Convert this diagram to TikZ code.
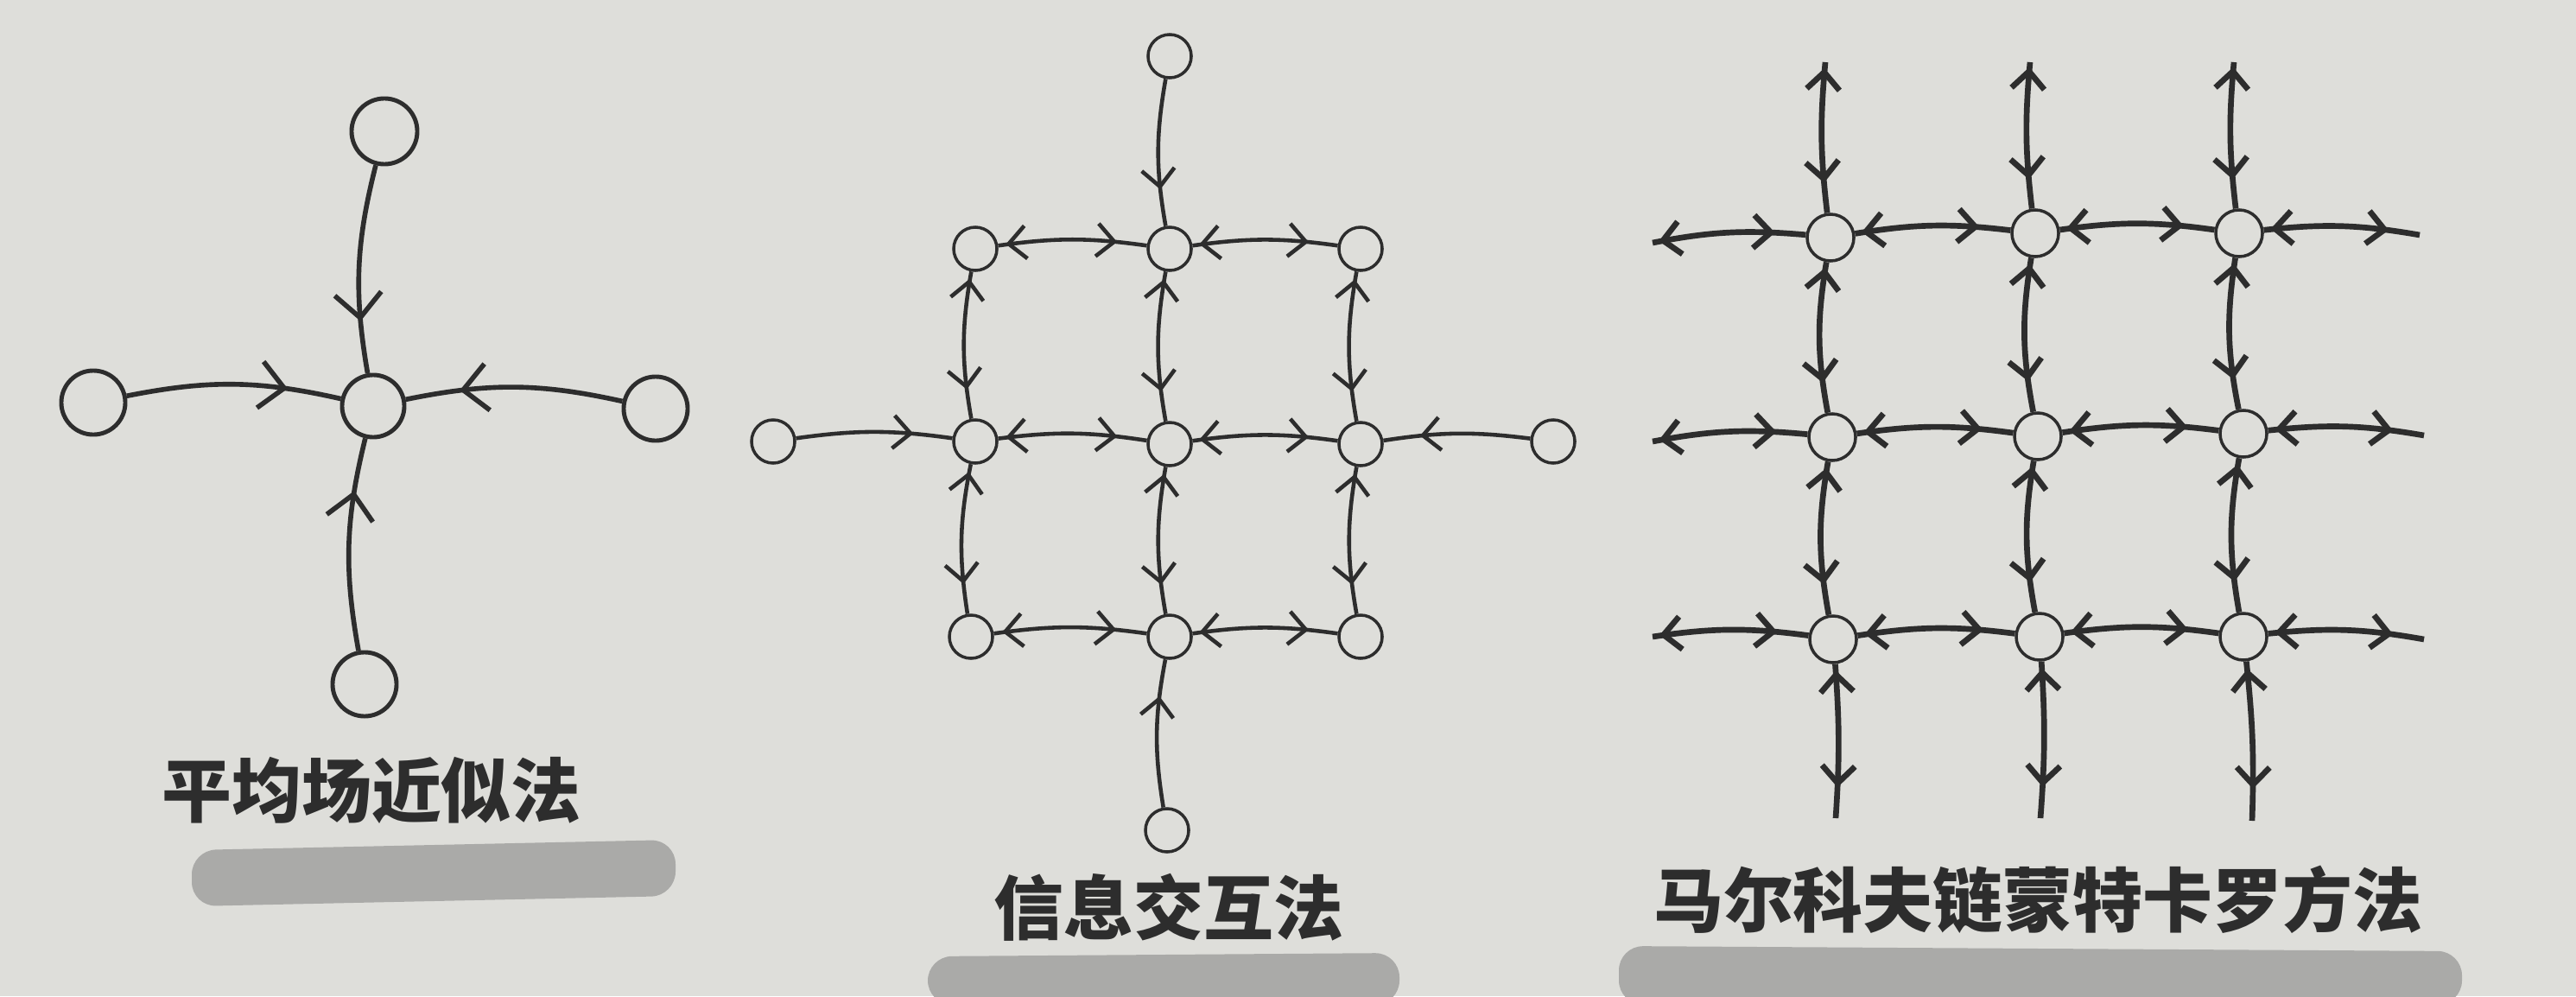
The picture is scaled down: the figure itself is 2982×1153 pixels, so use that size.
\documentclass[tikz,border=0pt]{standalone}
\usepackage{fontspec}
\newfontfamily\cjk{Noto Sans CJK SC Black}
\usetikzlibrary{arrows.meta,decorations.markings}
\definecolor{paper}{RGB}{222,222,218}
\definecolor{ink}{RGB}{45,45,45}
\definecolor{marker}{RGB}{170,170,168}

\begin{document}
\begin{tikzpicture}[x=0.01cm,y=0.01cm]
\tikzset{every node/.style={circle,draw=ink,fill=paper,inner sep=0pt},
both way/.style={postaction={decorate},decoration={markings,
mark=at position 0.2 with {\arrow{<}},mark=at position 0.8 with {\arrow{>}}}},
in way/.style={postaction={decorate},decoration={markings,
mark=at position 0.75 with {\arrow{>}}}},
caption/.style={draw=none,fill=none,rectangle,text=ink,
font=\cjk\fontsize{23pt}{23pt}\selectfont}}
\fill[paper] (0,0) rectangle (2982,1153);
\useasboundingbox (0,0) rectangle (2982,1153);

% marker strokes under the captions
\fill[marker,rounded corners=8pt] (222,104) -- (782,116) -- (782,181) -- (222,169) -- cycle;
\fill[marker,rounded corners=8pt] (1074,-10) -- (1620,-10) -- (1620,50) -- (1074,46) -- cycle;
\fill[marker,rounded corners=8pt] (1874,-10) -- (2850,-10) -- (2850,52) -- (1874,58) -- cycle;

% mean field
\begin{scope}[color=ink,>={Straight Barb[length=0.28cm,width=0.54cm]}]
\node[minimum size=0.72cm,line width=1.4pt] (mean c) at (432,683) {};
\node[minimum size=0.76cm,line width=1.4pt] (mean t) at (445,1001) {};
\node[minimum size=0.74cm,line width=1.4pt] (mean l) at (108,687) {};
\node[minimum size=0.74cm,line width=1.4pt] (mean r) at (759,680) {};
\node[minimum size=0.74cm,line width=1.4pt] (mean b) at (422,361) {};
\path[draw,line width=1.6pt]
(mean t) edge[in way,bend right=12] (mean c)
(mean l) edge[in way,bend left=12] (mean c)
(mean r) edge[in way,bend right=12] (mean c)
(mean b) edge[in way,bend left=12] (mean c);
\node[caption] (mean label) at (430,238) {平均场近似法};
\end{scope}

% belief propagation
\begin{scope}[color=ink,>={Straight Barb[length=0.2cm,width=0.38cm]},
every node/.append style={minimum size=0.5cm,line width=1pt}]
\node (bp11) at (1129,865) {};
\node (bp12) at (1354,865) {};
\node (bp13) at (1575,865) {};
\node (bp21) at (1129,642) {};
\node (bp22) at (1354,639) {};
\node (bp23) at (1575,639) {};
\node (bp31) at (1124,416) {};
\node (bp32) at (1354,416) {};
\node (bp33) at (1575,416) {};
\node (bpT) at (1354,1088) {};
\node (bpB) at (1351,192) {};
\node (bpL) at (895,642) {};
\node (bpR) at (1798,642) {};
\path[draw,line width=1.3pt]
(bp11) edge[both way,bend left=8] (bp12)
(bp12) edge[both way,bend left=8] (bp13)
(bp21) edge[both way,bend left=8] (bp22)
(bp22) edge[both way,bend left=8] (bp23)
(bp31) edge[both way,bend left=8] (bp32)
(bp32) edge[both way,bend left=8] (bp33)
(bp11) edge[both way,bend right=10] (bp21)
(bp21) edge[both way,bend right=10] (bp31)
(bp12) edge[both way,bend right=10] (bp22)
(bp22) edge[both way,bend right=10] (bp32)
(bp13) edge[both way,bend right=10] (bp23)
(bp23) edge[both way,bend right=10] (bp33)
(bpT) edge[in way,bend right=10] (bp12)
(bpB) edge[in way,bend left=10] (bp32)
(bpL) edge[in way,bend left=8] (bp21)
(bpR) edge[in way,bend right=8] (bp23);
\node[caption] (bp label) at (1353,103) {信息交互法};
\end{scope}

% markov chain monte carlo
\begin{scope}[color=ink,>={Straight Barb[length=0.2cm,width=0.38cm]},
every node/.append style={minimum size=0.54cm,line width=1pt}]
\node (mc11) at (2119,878) {};
\node (mc12) at (2356,883) {};
\node (mc13) at (2592,883) {};
\node (mc21) at (2121,647) {};
\node (mc22) at (2359,648) {};
\node (mc23) at (2597,651) {};
\node (mc31) at (2122,413) {};
\node (mc32) at (2361,416) {};
\node (mc33) at (2597,416) {};
\coordinate (mcW1) at (1913,872);
\coordinate (mcW2) at (1913,642);
\coordinate (mcW3) at (1913,416);
\coordinate (mcE1) at (2801,881);
\coordinate (mcE2) at (2806,649);
\coordinate (mcE3) at (2806,413);
\coordinate (mcN1) at (2113,1081);
\coordinate (mcN2) at (2350,1081);
\coordinate (mcN3) at (2586,1081);
\coordinate (mcS1) at (2125,206);
\coordinate (mcS2) at (2362,206);
\coordinate (mcS3) at (2607,203);
\path[draw,line width=1.9pt]
(mcW1) edge[both way,bend left=8] (mc11)
(mc11) edge[both way,bend left=8] (mc12)
(mc12) edge[both way,bend left=8] (mc13)
(mc13) edge[both way,bend left=8] (mcE1)
(mcW2) edge[both way,bend left=8] (mc21)
(mc21) edge[both way,bend left=8] (mc22)
(mc22) edge[both way,bend left=8] (mc23)
(mc23) edge[both way,bend left=8] (mcE2)
(mcW3) edge[both way,bend left=8] (mc31)
(mc31) edge[both way,bend left=8] (mc32)
(mc32) edge[both way,bend left=8] (mc33)
(mc33) edge[both way,bend left=8] (mcE3)
(mcN1) edge[both way,bend right=6] (mc11)
(mc11) edge[both way,bend right=10] (mc21)
(mc21) edge[both way,bend right=10] (mc31)
(mc31) edge[both way,bend left=4] (mcS1)
(mcN2) edge[both way,bend right=6] (mc12)
(mc12) edge[both way,bend right=10] (mc22)
(mc22) edge[both way,bend right=10] (mc32)
(mc32) edge[both way,bend left=4] (mcS2)
(mcN3) edge[both way,bend right=6] (mc13)
(mc13) edge[both way,bend right=10] (mc23)
(mc23) edge[both way,bend right=10] (mc33)
(mc33) edge[both way,bend left=4] (mcS3);
\node[caption] (mc label) at (2359,112) {马尔科夫链蒙特卡罗方法};
\end{scope}
\end{tikzpicture}
\end{document}
